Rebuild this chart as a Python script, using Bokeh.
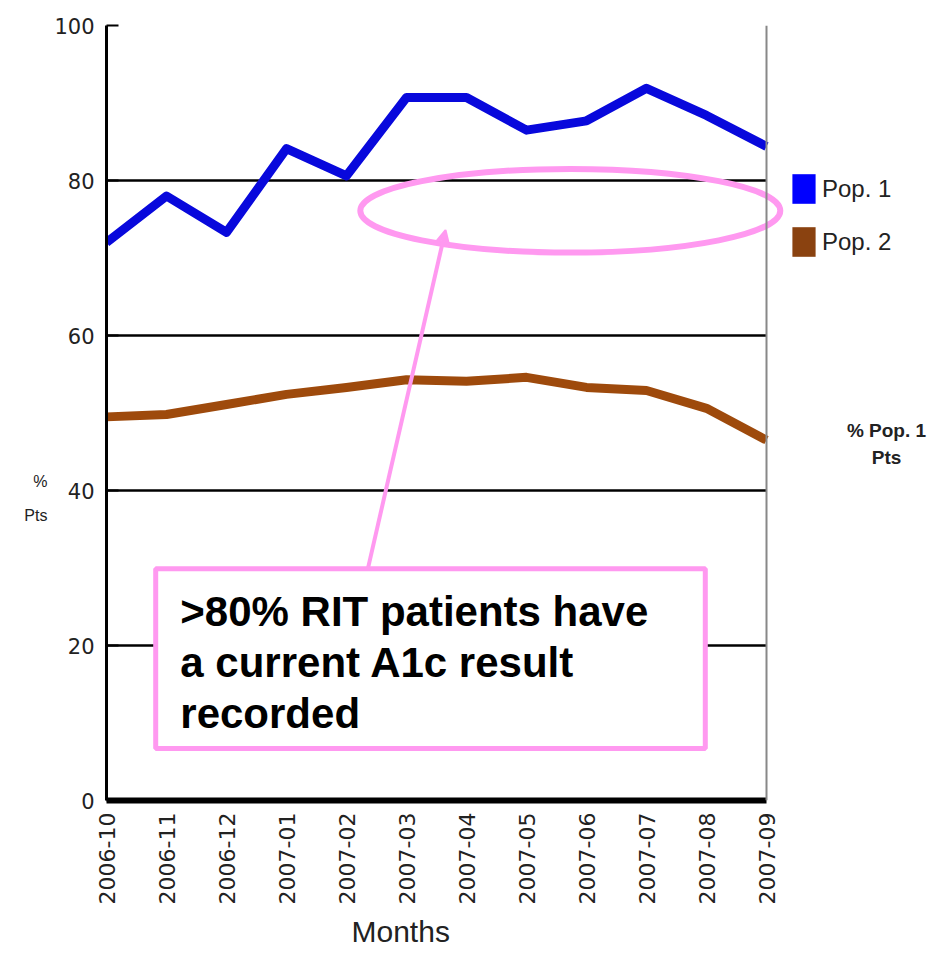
import math
from bokeh.plotting import figure
from bokeh.models import (Range1d, FixedTicker, Label, Legend, LegendItem, Arrow, VeeHead,
                          BoxAnnotation, Span, ColumnDataSource, Title)
from bokeh.embed import file_html
from bokeh.resources import INLINE

months = ["2006-10", "2006-11", "2006-12", "2007-01", "2007-02", "2007-03",
          "2007-04", "2007-05", "2007-06", "2007-07", "2007-08", "2007-09"]
pop1 = [72.0, 78.0, 73.3, 84.1, 80.6, 90.7, 90.7, 86.5, 87.7, 91.9, 88.4, 84.4]
pop2 = [49.5, 49.8, 51.1, 52.4, 53.3, 54.3, 54.1, 54.6, 53.3, 52.9, 50.6, 46.5]
y_ticks = [0, 20, 40, 60, 80, 100]
grid_values = [20, 40, 60, 80]
series_names = ["Pop. 1", "Pop. 2"]
callout_lines = [">80% RIT patients have", "a current A1c result", "recorded"]

BLUE_LINE = "#0808dc"
BLUE_SW = "#0000ff"
BROWN_LINE = "#9e4a0c"
BROWN_SW = "#8a4210"
PINK = "#ff99f0"
FONT = "Liberation Sans"
NAN = float("nan")

x = list(range(len(months)))
n = len(months) - 1

W, H = 932, 953
LEFT, TOP, BOTTOM = 106, 25, 153
frame_w = W - LEFT
x_end = n * frame_w / 660.0  # last month sits 660 px right of the y axis

p = figure(width=W, height=H, output_backend="svg", toolbar_location=None,
           x_range=Range1d(0, x_end), y_range=Range1d(0, 100),
           min_border_left=LEFT, min_border_right=0, min_border_top=TOP,
           min_border_bottom=BOTTOM)
p.outline_line_color = None
p.background_fill_color = "white"

# x axis
p.xaxis.ticker = FixedTicker(ticks=x)
p.xaxis.bounds = (0, n)
p.xaxis.major_label_overrides = {i: m for i, m in enumerate(months)}
p.xaxis.major_label_orientation = math.pi / 2
p.xaxis.major_label_text_font = "DejaVu Sans"
p.xaxis.major_label_text_font_size = "22px"
p.xaxis.major_label_text_color = "#222222"
p.xaxis.major_label_standoff = 12
p.xaxis.axis_line_width = 6
p.xaxis.axis_line_color = "black"
p.xaxis.major_tick_in = 0
p.xaxis.major_tick_out = 0
p.xaxis.major_tick_line_color = None
p.xaxis.minor_tick_line_color = None

months_title = Title(text="Months", align="left", offset=245, standoff=10,
                     text_font=FONT, text_font_size="30px", text_font_style="normal",
                     text_color="#222222")
p.add_layout(months_title, "below")

# y axis
p.yaxis.ticker = FixedTicker(ticks=y_ticks)
p.yaxis.major_label_text_font = "DejaVu Sans"
p.yaxis.major_label_text_font_size = "21px"
p.yaxis.major_label_text_color = "#222222"
p.yaxis.major_label_standoff = 12
p.yaxis.axis_line_width = 3
p.yaxis.axis_line_color = "black"
p.yaxis.major_tick_in = 12
p.yaxis.major_tick_out = 0
p.yaxis.major_tick_line_width = 2
p.yaxis.minor_tick_line_color = None
p.yaxis.axis_label = "\n\n\n\n\n%\nPts"
p.yaxis.axis_label_orientation = "horizontal"
p.yaxis.axis_label_text_font = FONT
p.yaxis.axis_label_text_font_size = "16px"
p.yaxis.axis_label_text_font_style = "normal"
p.yaxis.axis_label_text_line_height = 2.0
p.yaxis.axis_label_text_color = "#222222"
p.yaxis.axis_label_standoff = 4

# grid lines only across the data area
p.xgrid.grid_line_color = None
p.ygrid.grid_line_color = None
p.segment(x0=[0] * len(grid_values), x1=[n] * len(grid_values),
          y0=grid_values, y1=grid_values, line_color="black", line_width=2.5)
p.add_layout(Span(location=n, dimension="height", line_color="#888888", line_width=2))

# series
p.line(x, pop1, line_color=BLUE_LINE, line_width=9, line_join="round")
p.line(x, pop2, line_color=BROWN_LINE, line_width=9, line_join="round")

# callout ellipse + arrow
p.ellipse(x=[7.73], y=[76.1], width=[7.0], height=[10.8], fill_color=None,
          line_color=PINK, line_width=6)
p.add_layout(Arrow(end=VeeHead(size=16, line_color=PINK, fill_color=PINK, line_width=2),
                   x_start=4.35, y_start=29.7, x_end=5.65, y_end=73.6,
                   line_color=PINK, line_width=4))

# callout box
p.add_layout(BoxAnnotation(left=0.82, right=9.98, bottom=6.7, top=29.9,
                           fill_color="white", fill_alpha=1.0,
                           line_color=PINK, line_alpha=1.0, line_width=5, level="overlay"))
for i, t in enumerate(callout_lines):
    p.add_layout(Label(x=1.23, y=24.4 - i * 6.6, text=t, text_font=FONT,
                       text_font_size="42px", text_font_style="bold", text_color="black",
                       text_baseline="middle", text_align="left", level="overlay"))

# legend (swatch renderers hold no drawable points)
src = ColumnDataSource(data=dict(l=[NAN], r=[NAN], t=[NAN], b=[NAN]))
r1 = p.quad(left="l", right="r", top="t", bottom="b", source=src, fill_color=BLUE_SW, line_color=None)
r2 = p.quad(left="l", right="r", top="t", bottom="b", source=src, fill_color=BROWN_SW, line_color=None)
legend = Legend(items=[LegendItem(label=series_names[0], renderers=[r1]),
                       LegendItem(label=series_names[1], renderers=[r2])],
                location=(683, 540), padding=0, margin=0, spacing=16,
                glyph_width=29, glyph_height=37, label_standoff=4,
                label_text_font=FONT, label_text_font_size="24px", label_text_color="#222222",
                border_line_color=None, background_fill_alpha=0)
p.add_layout(legend, "center")

# side note on the right
p.add_layout(Label(x=13.0, y=47.7, text="% Pop. 1", text_font=FONT, text_font_size="19px",
                   text_font_style="bold", text_align="center", text_baseline="middle",
                   text_color="#222222"))
p.add_layout(Label(x=13.0, y=44.3, text="Pts", text_font=FONT, text_font_size="19px",
                   text_font_style="bold", text_align="center", text_baseline="middle",
                   text_color="#222222"))

open("out.html", "w").write(file_html(p, INLINE))
